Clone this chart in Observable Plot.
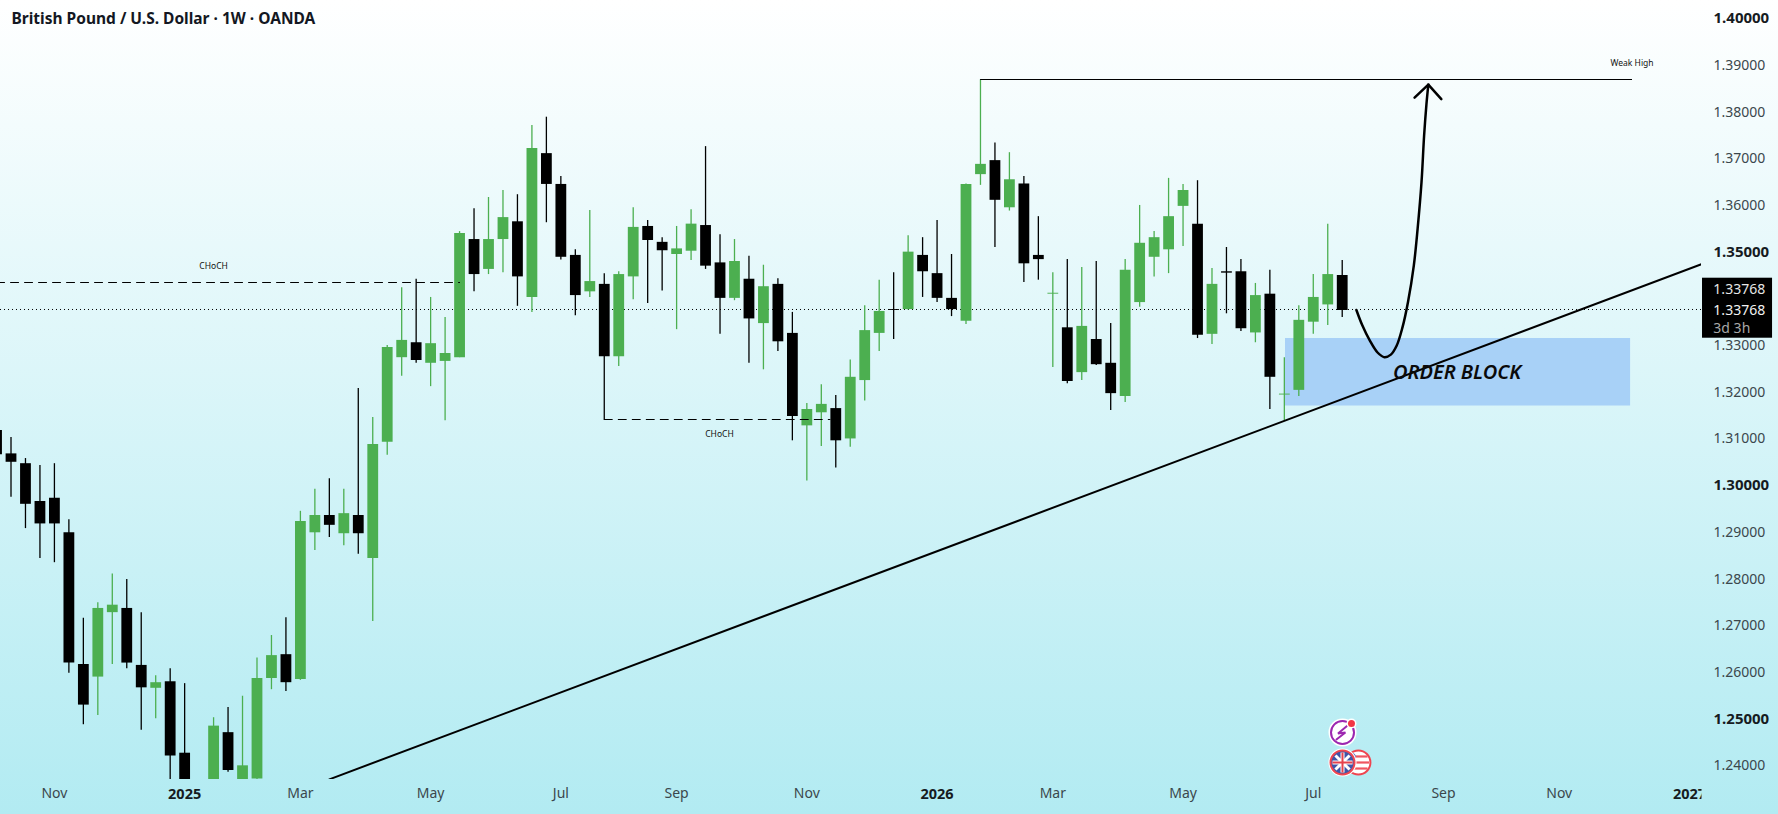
<!DOCTYPE html>
<html><head><meta charset="utf-8">
<script src="https://cdn.jsdelivr.net/npm/d3@7"></script>
<script src="https://cdn.jsdelivr.net/npm/@observablehq/plot@0.6"></script>
<style>
html,body{margin:0;padding:0;width:1778px;height:814px;overflow:hidden;background:linear-gradient(180deg,#ffffff 0%,#b2ebf2 100%);}
svg{display:block;background:transparent;}
</style></head><body><div id="chart"></div>
<script>
const title = "British Pound / U.S. Dollar · 1W · OANDA";
const firstBar = -1; // weekly bar number of the first array entry (bar 0 = 14 Oct 2024)
const opens = [1.3118,
 1.3068,1.3047,1.2966,1.2973,1.2899,1.2617,1.2590,1.2728,1.2737,1.2615,
 1.2566,1.2580,1.2427,1.2340,1.2340,1.2471,1.2360,1.2372,1.2587,1.2638,
 1.2585,1.2899,1.2936,1.2897,1.2936,1.2844,1.3093,1.3274,1.3306,1.3262,
 1.3266,1.3274,1.3527,1.3463,1.3527,1.3565,1.3403,1.3711,1.3645,1.3493,
 1.3415,1.3431,1.3276,1.3447,1.3555,1.3521,1.3495,1.3502,1.3557,1.3477,
 1.3401,1.3442,1.3347,1.3431,1.3326,1.3128,1.3156,1.3165,1.3100,1.3225,
 1.3326,1.3377,1.3377,1.3493,1.3454,1.3401,1.3352,1.3666,1.3696,1.3595,
 1.3646,1.3493,1.3410,1.3338,1.3242,1.3313,1.3262,1.3191,1.3392,1.3489,
 1.3505,1.3598,1.3560,1.3324,1.3458,1.3458,1.3327,1.3410,1.3194,1.3204,
 1.3350,1.3387,1.3450];
const closes = [1.3066,
 1.3050,1.2960,1.2918,1.2918,1.2620,1.2530,1.2737,1.2744,1.2620,1.2567,
 1.2578,1.2421,1.2340,1.2290,1.2485,1.2390,1.2400,1.2587,1.2636,1.2578,
 1.2923,1.2936,1.2915,1.2940,1.2897,1.3088,1.3296,1.3311,1.3268,1.3304,
 1.3283,1.3540,1.3452,1.3527,1.3574,1.3447,1.3722,1.3645,1.3489,1.3407,
 1.3437,1.3276,1.3452,1.3553,1.3525,1.3503,1.3507,1.3560,1.3470,1.3401,
 1.3480,1.3357,1.3426,1.3308,1.3148,1.3163,1.3174,1.3096,1.3232,1.3332,
 1.3373,1.3375,1.3500,1.3458,1.3401,1.3377,1.3645,1.3688,1.3611,1.3655,
 1.3475,1.3484,1.3412,1.3223,1.3341,1.3259,1.3197,1.3461,1.3519,1.3531,
 1.3576,1.3632,1.3322,1.3431,1.3455,1.3336,1.3407,1.3232,1.3196,1.3354,
 1.3403,1.3452,1.3375];
const highs = [1.3118,
 1.3103,1.3058,1.3043,1.3047,1.2927,1.2716,1.2749,1.2811,1.2799,1.2728,
 1.2593,1.2608,1.2576,1.2360,1.2503,1.2525,1.2549,1.2631,1.2679,1.2717,
 1.2945,1.2992,1.3015,1.2992,1.3208,1.3146,1.3300,1.3424,1.3442,1.3403,
 1.3360,1.3544,1.3593,1.3617,1.3632,1.3623,1.3771,1.3789,1.3662,1.3505,
 1.3589,1.3454,1.3458,1.3595,1.3568,1.3531,1.3555,1.3591,1.3726,1.3537,
 1.3527,1.3491,1.3472,1.3443,1.3371,1.3176,1.3216,1.3193,1.3269,1.3385,
 1.3440,1.3456,1.3535,1.3531,1.3568,1.3495,1.3646,1.3869,1.3734,1.3713,
 1.3662,1.3576,1.3456,1.3484,1.3467,1.3480,1.3347,1.3484,1.3600,1.3544,
 1.3658,1.3645,1.3653,1.3465,1.3510,1.3484,1.3433,1.3461,1.3274,1.3385,
 1.3452,1.3560,1.3482];
const lows = [1.3066,
 1.2975,1.2908,1.2844,1.2835,1.2598,1.2488,1.2508,1.2617,1.2608,1.2476,
 1.2501,1.2350,1.2320,1.2260,1.2320,1.2386,1.2350,1.2365,1.2563,1.2559,
 1.2583,1.2861,1.2889,1.2871,1.2853,1.2709,1.3065,1.3234,1.3262,1.3212,
 1.3139,1.3274,1.3415,1.3452,1.3456,1.3384,1.3371,1.3563,1.3483,1.3364,
 1.3403,1.3140,1.3255,1.3398,1.3390,1.3417,1.3334,1.3482,1.3463,1.3324,
 1.3396,1.3262,1.3248,1.3287,1.3096,1.3010,1.3084,1.3038,1.3082,1.3181,
 1.3287,1.3313,1.3376,1.3403,1.3392,1.3362,1.3345,1.3643,1.3510,1.3588,
 1.3435,1.3440,1.3253,1.3218,1.3225,1.3257,1.3161,1.3178,1.3382,1.3447,
 1.3454,1.3512,1.3315,1.3302,1.3368,1.3330,1.3306,1.3163,1.3139,1.3191,
 1.3324,1.3343,1.3360];
const upColor = "#4caf50", downColor = "#000000";
const monthTicks = [3,20,29,38,46,55,72,81,90,99,107];
const monthLabels = ["Nov","Mar","May","Jul","Sep","Nov","Mar","May","Jul","Sep","Nov"];
const yearTicks = [12,64,116];
const yearLabels = ["2025","2026","2027"];
const priceTicks = [1.39,1.38,1.37,1.36,1.33,1.32,1.31,1.29,1.28,1.27,1.26,1.24];
const priceTicksStrong = [1.40,1.35,1.30,1.25];
const lastPrice = 1.33772;
const trendBars = [22,116.83], trendPrices = [1.23711,1.34741];
const weakHighBars = [67,112], weakHighPrice = 1.38697;
const chochUpperBars = [-1,31], chochUpperPrice = 1.3435;
const chochLowerBars = [41,56.6], chochLowerPrice = 1.31416;
const orderBlock = {x1:88.08,x2:111.93,y1:1.31705,y2:1.33151};
const curveBars = [92.98,93.38,93.91,94.44,94.91,95.36,95.76,96.16,96.55,96.95,97.21,97.48,97.66,97.82,97.95];
const curvePrices = [1.33762,1.3344,1.33106,1.32851,1.32751,1.32806,1.32995,1.33384,1.3394,1.34718,1.35497,1.36498,1.37498,1.38165,1.38588];
const headBars = [97.0,97.95,98.85], headPrices = [1.3831,1.38588,1.38277];
const notes = [
 {i:14,p:1.3470,t:"CHoCH"},
 {i:48.96,p:1.31105,t:"CHoCH"},
 {i:112.03,p:1.39044,t:"Weak High"}];
const priceBox = {x1:116.9,x2:121.74,y1:1.33157,y2:1.34442};
const boxLabels = [
 {i:117.65,p:1.34201,t:"1.33768",c:"#e6e6e6"},
 {i:117.65,p:1.33751,t:"1.33768",c:"#f2f2f2"},
 {i:117.65,p:1.33365,t:"3d 3h",c:"#a8a8a8"}];
const ukFlag = {i:92.02,p:1.24071}, usFlag = {i:93.12,p:1.24071};
const ukDiag = [[91.53,1.23921,92.51,1.24221],[91.53,1.24221,92.51,1.23921]];
const ukCross = [[92.02,1.23857,92.02,1.24285],[91.33,1.24071,92.71,1.24071]];
const usStripes = [[92.6,1.23942,93.75,1.23942],[92.9,1.24071,93.85,1.24071],[92.9,1.24200,93.75,1.24200]];
const usCanton = {i:92.66,p:1.2419};
const boltIcon = {i:92.02,p:1.24714}, boltBadge = {i:92.64,p:1.24907};
const boltBars = [92.37,91.71,92.22,91.60], boltPrices = [1.24864,1.24693,1.24714,1.24564];

const bars = opens.map((o,k)=>({i:firstBar+k,o,c:closes[k],h:highs[k],l:lows[k],col:closes[k]>o?upColor:downColor}));
const seg = ([a,b,c,d])=>({a,b,c,d});
const line = (xs,ys)=>xs.map((x,k)=>({x,y:Array.isArray(ys)?ys[k]:ys}));
const ink = "#3b474c", inkStrong = "#161b1f";
const labelFor = (ticks,labels)=>d=>labels[ticks.indexOf(d)];

const plot = Plot.plot({
  width:1778,height:814,marginTop:0,marginBottom:35,marginLeft:0,marginRight:77,
  style:{fontFamily:"'Noto Sans',sans-serif",fontSize:"14px",background:"transparent"},
  x:{type:"linear",domain:[-0.726,116.83],axis:null},
  y:{type:"linear",domain:[1.23707,1.40389],axis:null},
  color:{type:"identity"},
  marks:[
    Plot.rect([orderBlock],{x1:"x1",x2:"x2",y1:"y1",y2:"y2",fill:"#a8d1f7",clip:true}),
    Plot.ruleY([lastPrice],{stroke:"#000",strokeWidth:1,strokeDasharray:"1 3"}),
    Plot.ruleX(bars,{x:"i",y1:"l",y2:"h",stroke:"col",strokeWidth:1.3,clip:true}),
    Plot.ruleX(bars,{x:"i",y1:"o",y2:"c",stroke:"col",strokeWidth:10.8,clip:true}),
    Plot.line(line(weakHighBars,weakHighPrice),{x:"x",y:"y",stroke:"#000",strokeWidth:1}),
    Plot.line(line(chochUpperBars,chochUpperPrice),{x:"x",y:"y",stroke:"#000",strokeWidth:1,strokeDasharray:"8 6",clip:true}),
    Plot.line(line(chochLowerBars,chochLowerPrice),{x:"x",y:"y",stroke:"#000",strokeWidth:1,strokeDasharray:"8 6"}),
    Plot.line(line(trendBars,trendPrices),{x:"x",y:"y",stroke:"#000",strokeWidth:2,clip:true}),
    Plot.line(line(curveBars,curvePrices),{x:"x",y:"y",stroke:"#000",strokeWidth:2.5,curve:"catmull-rom"}),
    Plot.line(line(headBars,headPrices),{x:"x",y:"y",stroke:"#000",strokeWidth:2.5,strokeLinejoin:"miter"}),
    Plot.text(notes,{x:"i",y:"p",text:"t",fontSize:8.5,fill:"#111"}),
    Plot.text([{i:99.94,p:1.32428,t:"ORDER BLOCK"}],{x:"i",y:"p",text:"t",fontSize:20,fontWeight:600,fontStyle:"italic",fill:"#0a0a0a",style:{letterSpacing:"0.5px"}}),
    // icons
    Plot.dot([boltIcon],{x:"i",y:"p",r:14,fill:"#fff"}),
    Plot.dot([boltIcon],{x:"i",y:"p",r:11.5,fill:"#fff",stroke:"#9c27b0",strokeWidth:2}),
    Plot.line(line(boltBars,boltPrices),{x:"x",y:"y",stroke:"#9c27b0",strokeWidth:2,strokeLinejoin:"miter"}),
    Plot.dot([boltBadge],{x:"i",y:"p",r:5,fill:"#fff"}),
    Plot.dot([boltBadge],{x:"i",y:"p",r:3.5,fill:"#f23645"}),
    Plot.dot([usFlag],{x:"i",y:"p",r:12,fill:"#fff",stroke:"#ef4550",strokeWidth:2}),
    Plot.link(usStripes.map(seg),{x1:"a",y1:"b",x2:"c",y2:"d",stroke:"#ef5560",strokeWidth:2.2}),
    Plot.dot([usCanton],{x:"i",y:"p",r:4,fill:"#5067c0"}),
    Plot.dot([ukFlag],{x:"i",y:"p",r:14,fill:"#fff"}),
    Plot.dot([ukFlag],{x:"i",y:"p",r:12,fill:"#3f55a8",stroke:"#ef4550",strokeWidth:2}),
    Plot.link(ukDiag.map(seg),{x1:"a",y1:"b",x2:"c",y2:"d",stroke:"#fff",strokeWidth:3}),
    Plot.link(ukCross.map(seg),{x1:"a",y1:"b",x2:"c",y2:"d",stroke:"#fff",strokeWidth:4}),
    Plot.link(ukCross.map(seg),{x1:"a",y1:"b",x2:"c",y2:"d",stroke:"#e5414d",strokeWidth:2}),
    // axes
    Plot.axisX(monthTicks,{anchor:"bottom",tickSize:0,tickPadding:9,label:null,tickFormat:labelFor(monthTicks,monthLabels),fill:ink,fontSize:14}),
    Plot.axisX(yearTicks,{anchor:"bottom",tickSize:0,tickPadding:9,label:null,tickFormat:labelFor(yearTicks,yearLabels),fill:inkStrong,fontWeight:700,fontSize:14.5}),
    Plot.axisY(priceTicks,{anchor:"right",tickSize:0,tickPadding:12,label:null,tickFormat:d=>d.toFixed(5),fill:ink,fontSize:14}),
    Plot.axisY(priceTicksStrong,{anchor:"right",tickSize:0,tickPadding:12,label:null,tickFormat:d=>d.toFixed(5),fill:inkStrong,fontWeight:700,fontSize:15}),
    Plot.rect([priceBox],{x1:"x1",x2:"x2",y1:"y1",y2:"y2",fill:"#000"}),
    Plot.text(boxLabels,{x:"i",y:"p",text:"t",fill:"c",textAnchor:"start",fontSize:14}),
    Plot.text([title],{frameAnchor:"top-left",dx:11,dy:12.5,text:d=>d,fontSize:15.5,fontWeight:700,fill:"#131722"})
  ]
});
document.getElementById("chart").append(plot);
// the pane edge cuts the last time label, as in the reference
const ns = "http://www.w3.org/2000/svg";
const defs = document.createElementNS(ns,"defs");
const cp = document.createElementNS(ns,"clipPath"); cp.id="pane-edge";
const cr = document.createElementNS(ns,"rect");
cr.setAttribute("x",0);cr.setAttribute("y",0);cr.setAttribute("width",plot.scale("x").range[1]);cr.setAttribute("height",plot.getAttribute("height"));
cp.append(cr);defs.append(cp);plot.prepend(defs);
plot.querySelectorAll('g[aria-label="x-axis tick label"]').forEach(g=>g.setAttribute("clip-path","url(#pane-edge)"));
</script></body></html>
